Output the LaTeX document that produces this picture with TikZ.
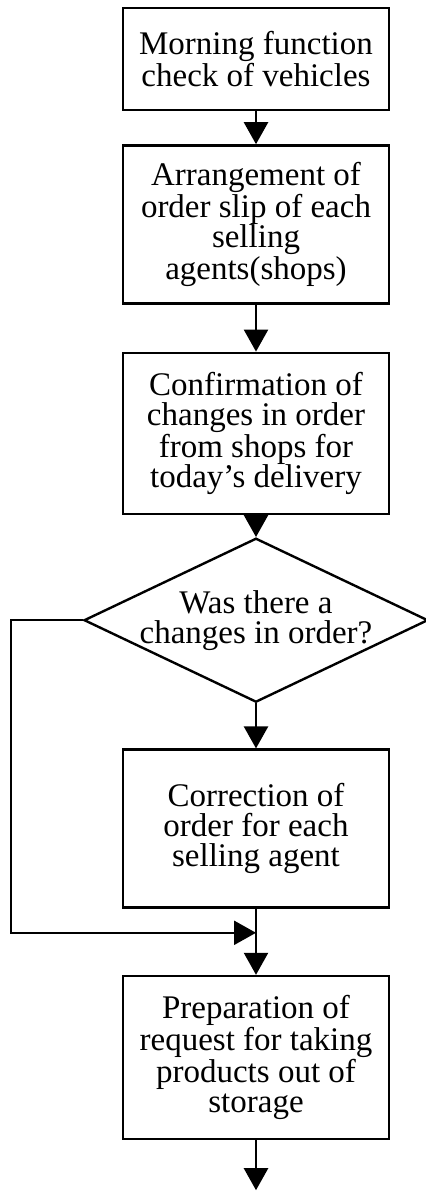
\documentclass[tikz,border=0pt]{standalone}
\usepackage{fontspec}
\setmainfont{Liberation Serif}
\usepackage{tikz}
\usetikzlibrary{arrows.meta,positioning,shapes.geometric}

\begin{document}
\begin{tikzpicture}
    [node distance = 1cm, auto,
    % STYLES
    every node/.style={font=\fontsize{16.5}{15}\selectfont},
    % The task style is used to draw the steps of the procedure
    task/.style={rectangle, draw, line width=1.2pt, minimum width=133pt, inner sep=2pt, align=center},
    % The decision style is used to draw the question
    decision/.style={diamond, aspect=2.1, draw, line width=1.2pt, minimum width=172pt, minimum height=82pt, inner sep=-4pt, align=center},
    % The flow style is used for the arrows between the steps
    flow/.style={line width=1.2pt, -{Triangle[length=11pt,width=12pt]}}]

    \useasboundingbox (0,0) rectangle (213pt,-596pt);

    % Draw steps
    \node [task, minimum height=51pt] (a) at (128pt,-29.5pt) {Morning function\\check of vehicles};
    \node [task, minimum height=79pt, below=16.5pt of a] (b) {Arrangement of\\order slip of each\\selling\\agents(shops)};
    \node [task, minimum height=80.5pt, below=23.5pt of b] (c) {Confirmation of\\changes in order\\from shops for\\today's delivery};
    \node [decision, below=11pt of c] (d) {Was there a\\changes in order?};
    \node [task, minimum height=79pt, below=22.5pt of d] (e) {Correction of\\order for each\\selling agent};
    \node [task, minimum height=81.5pt, below=33pt of e] (f) {Preparation of\\request for taking\\products out of\\storage};

    % Points of the bypass and the open end
    \coordinate [below=12pt of e] (g);
    \coordinate (l) at ([xshift=-36pt]d.west);
    \coordinate [below=25pt of f] (h);

    \path[flow]
    (a) edge (b)
    (b) edge (c)
    (c) edge (d)
    (d) edge (e)
    (e) edge (f)
    (f) edge (h);

    \draw[flow] (d.west) -- (l) |- (g);
\end{tikzpicture}
\end{document}
